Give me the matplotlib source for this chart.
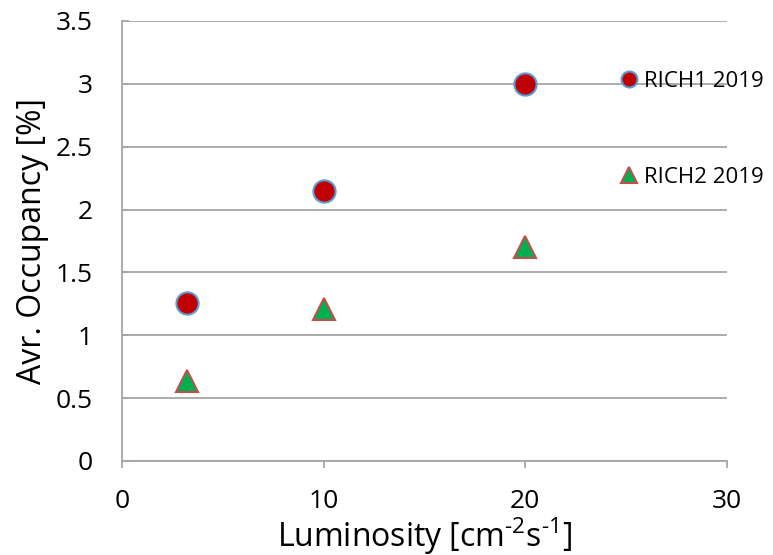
import matplotlib
matplotlib.use("Agg")
import matplotlib.pyplot as plt
from matplotlib.ticker import FuncFormatter

plt.rcParams['font.family'] = ['Open Sans', 'DejaVu Sans']
plt.rcParams['mathtext.fontset'] = 'custom'
plt.rcParams['mathtext.rm'] = 'Open Sans'
plt.rcParams['mathtext.it'] = 'Open Sans'
plt.rcParams['mathtext.default'] = 'regular'

# data
luminosity = [3.2, 10, 20]
rich1_occupancy = [1.26, 2.15, 3.0]
rich2_occupancy = [0.64, 1.21, 1.70]
series_names = ['RICH1 2019', 'RICH2 2019']

grid_col = '#a6a6a6'

fig = plt.figure(figsize=(7.73, 5.55), dpi=100)
ax = fig.add_axes([0.1578, 0.1694, 0.7827, 0.7928])

ax.plot(luminosity, rich1_occupancy, 'o', ms=16, mfc='#c00000', mec='#5b9bd5',
        mew=1.5, label=series_names[0], zorder=3)
ax.plot(luminosity, rich2_occupancy, '^', ms=16.5, mfc='#00b050', mec='#c0504d',
        mew=1.5, label=series_names[1], zorder=3)

ax.set_xlim(0, 30)
ax.set_ylim(0, 3.5)
ax.set_xticks([0, 10, 20, 30])
ax.set_yticks([0, 0.5, 1, 1.5, 2, 2.5, 3, 3.5])
ax.yaxis.set_major_formatter(FuncFormatter(lambda v, p: '%g' % v))

ax.grid(axis='y', color=grid_col, lw=1.3)
ax.set_axisbelow(True)
for s in ['top', 'right']:
    ax.spines[s].set_visible(False)
for s in ['left', 'bottom']:
    ax.spines[s].set_color(grid_col)
    ax.spines[s].set_linewidth(1.3)
ax.tick_params(axis='both', labelsize=19, color=grid_col, width=1.3, length=5)
ax.tick_params(axis='y', direction='in', pad=21)
ax.tick_params(axis='x', pad=15)

ax.set_xlabel('Luminosity [cm$^{\\text{-2}}$s$^{\\text{-1}}$]', fontsize=23, labelpad=1)
ax.set_ylabel('Avr. Occupancy [%]', fontsize=23, labelpad=5)

leg = ax.legend(loc='upper left', bbox_to_anchor=(0.823, 0.887), frameon=False,
                fontsize=16, markerscale=0.72, handlelength=0.8, handletextpad=0.3,
                labelspacing=3.4, borderpad=0, borderaxespad=0)

fig.savefig('out.png', dpi=100)
